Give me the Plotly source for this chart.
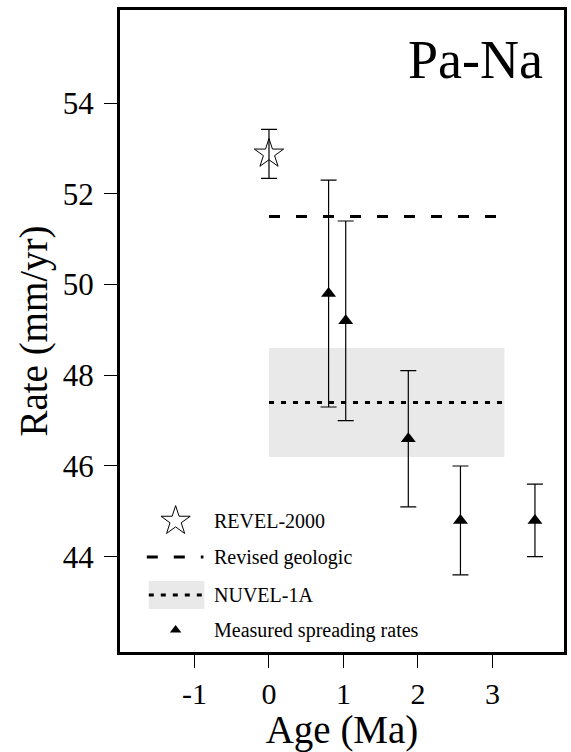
import plotly.graph_objects as go

# ---- data ----
revel_age = [0.0]
revel_rate = [52.88]
revel_err = [0.54]

meas_age = [0.80, 1.03, 1.87, 2.57, 3.57]
meas_rate = [49.8, 49.2, 46.6, 44.8, 44.8]
meas_err = [2.5, 2.2, 1.5, 1.2, 0.8]

geo_age = [0.0, 3.1]
geo_rate = [51.5, 51.5]

nuvel_age = [0.0, 3.16]
nuvel_rate = [47.4, 47.4]
nuvel_err = 1.2

xtick_vals = [-1, 0, 1, 2, 3]
ytick_vals = [44, 46, 48, 50, 52, 54]

legend_labels = ["REVEL-2000", "Revised geologic", "NUVEL-1A", "Measured spreading rates"]

FONT = "Liberation Serif"
W, H = 571, 752
L, R, T, B = 120, 4, 10, 100

fig = go.Figure()

# NUVEL-1A band
fig.add_shape(type="rect", xref="x", yref="y",
              x0=nuvel_age[0], x1=nuvel_age[1],
              y0=nuvel_rate[0] - nuvel_err, y1=nuvel_rate[0] + nuvel_err,
              fillcolor="rgb(233,233,233)", line=dict(width=0), layer="below")

fig.add_trace(go.Scatter(x=nuvel_age, y=nuvel_rate, mode="lines",
                         line=dict(color="black", width=3, dash="5px,7px"),
                         showlegend=False, hoverinfo="skip"))
fig.add_trace(go.Scatter(x=geo_age, y=geo_rate, mode="lines",
                         line=dict(color="black", width=3, dash="11px,16px"),
                         showlegend=False, hoverinfo="skip"))

fig.add_trace(go.Scatter(x=revel_age, y=revel_rate, mode="markers",
                         marker=dict(symbol="star-open", size=22, color="black",
                                     line=dict(width=1, color="black")),
                         error_y=dict(type="data", array=revel_err, visible=True,
                                      color="black", thickness=1.2, width=8),
                         showlegend=False))

fig.add_trace(go.Scatter(x=meas_age, y=meas_rate, mode="markers",
                         marker=dict(symbol="triangle-up", size=13, color="black"),
                         error_y=dict(type="data", array=meas_err, visible=True,
                                      color="black", thickness=1.2, width=8),
                         showlegend=False))

# ---- manual legend on a pixel-like overlay axis ----
lx_sym = 176
lx_txt = 213
ly = [521, 557, 595, 630]

fig.add_shape(type="rect", xref="x2", yref="y2", x0=149, x1=205, y0=581, y1=609,
              fillcolor="rgb(233,233,233)", line=dict(width=0), layer="below")
fig.add_shape(type="line", xref="x2", yref="y2", x0=147, x1=204, y0=ly[1], y1=ly[1],
              line=dict(color="black", width=3, dash="11px,16px"))
fig.add_shape(type="line", xref="x2", yref="y2", x0=149, x1=205, y0=ly[2], y1=ly[2],
              line=dict(color="black", width=3, dash="5px,7px"))
fig.add_trace(go.Scatter(x=[lx_sym], y=[ly[0]], xaxis="x2", yaxis="y2", mode="markers",
                         marker=dict(symbol="star-open", size=22, color="black",
                                     line=dict(width=1, color="black")),
                         showlegend=False, hoverinfo="skip"))
fig.add_trace(go.Scatter(x=[lx_sym], y=[ly[3]], xaxis="x2", yaxis="y2", mode="markers",
                         marker=dict(symbol="triangle-up", size=10, color="black"),
                         showlegend=False, hoverinfo="skip"))
for lab, yy in zip(legend_labels, ly):
    fig.add_annotation(x=lx_txt, y=yy, xref="x2", yref="y2", text=lab, showarrow=False,
                       xanchor="left", yanchor="middle",
                       font=dict(family=FONT, size=20, color="black"))

fig.add_annotation(x=548, y=60, xref="x2", yref="y2", text="Pa-Na", showarrow=False,
                   xanchor="right", yanchor="middle",
                   font=dict(family=FONT, size=54, color="black"))

fig.update_layout(
    width=W, height=H,
    margin=dict(l=L, r=R, t=T, b=B),
    paper_bgcolor="white", plot_bgcolor="white",
    font=dict(family=FONT, color="black"),
    showlegend=False,
    xaxis=dict(range=[-2, 3.96], tickvals=xtick_vals, ticktext=[str(v) for v in xtick_vals],
               ticks="outside", ticklen=13, tickwidth=1, tickcolor="black",
               showline=True, linewidth=3, linecolor="black", mirror=True,
               showgrid=False, zeroline=False,
               tickfont=dict(family=FONT, size=30), ticklabelstandoff=0,
               title=dict(text="Age (Ma)", font=dict(family=FONT, size=39), standoff=10)),
    yaxis=dict(range=[41.9, 56.05], tickvals=ytick_vals,
               ticks="outside", ticklen=13, tickwidth=1, tickcolor="black",
               showline=True, linewidth=3, linecolor="black", mirror=True,
               showgrid=False, zeroline=False,
               tickfont=dict(family=FONT, size=31), ticklabelstandoff=4,
               title=dict(text="Rate (mm/yr)", font=dict(family=FONT, size=39), standoff=4)),
    xaxis2=dict(range=[L, W - R], overlaying="x", visible=False, fixedrange=True),
    yaxis2=dict(range=[H - B, T], overlaying="y", visible=False, fixedrange=True),
)

fig.write_html("out.html")
